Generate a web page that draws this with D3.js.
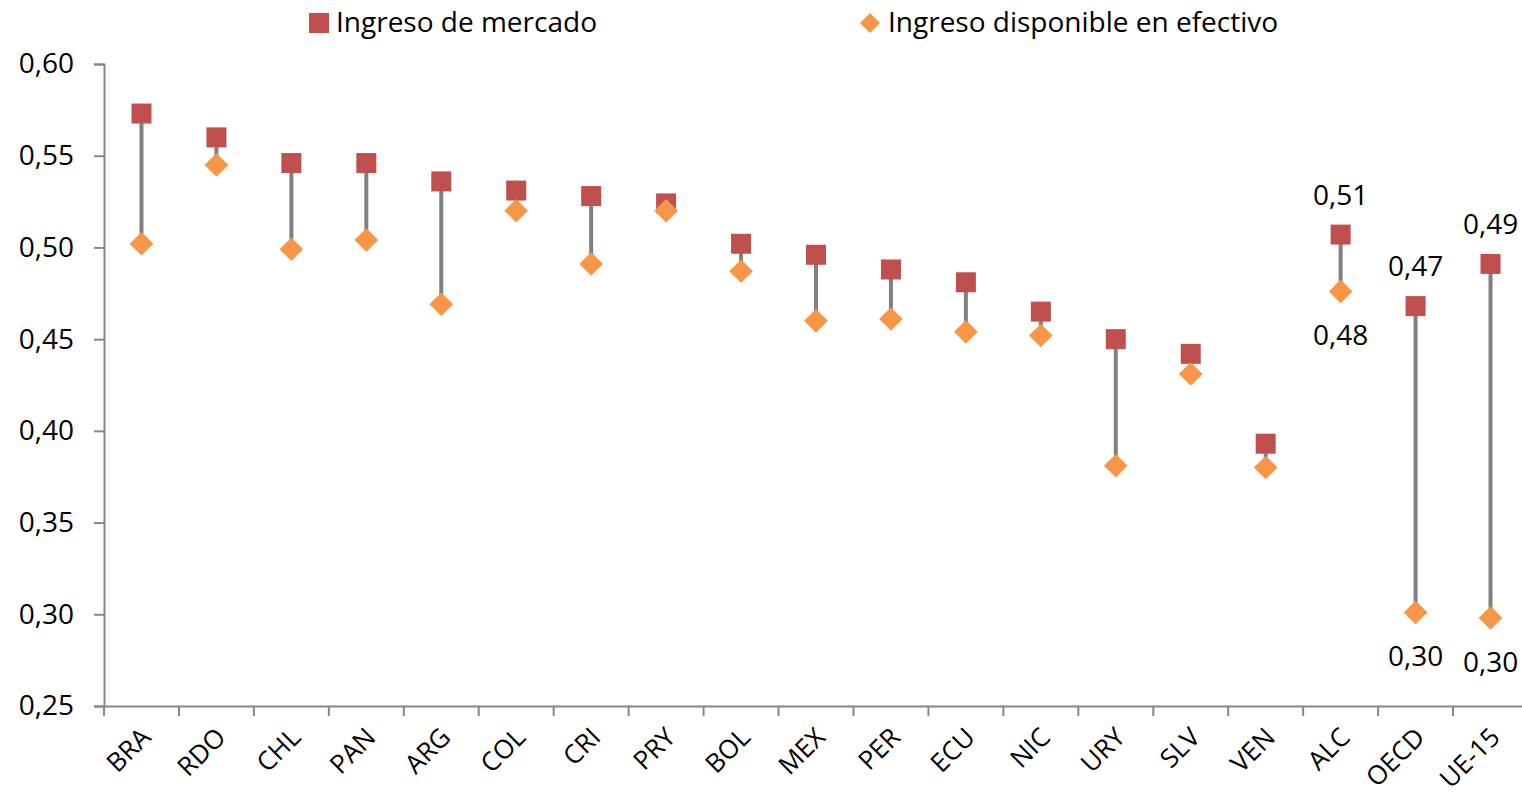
<!DOCTYPE html>
<html>
<head>
<meta charset="utf-8">
<script src="https://cdn.jsdelivr.net/npm/d3@7"></script>
<style>
  body { margin: 0; background: #fff; }
  text { font-family: "Open Sans", sans-serif; fill: #000; }
</style>
</head>
<body>
<div id="chart"></div>
<script>
// Data
var countries = ["BRA", "RDO", "CHL", "PAN", "ARG", "COL", "CRI", "PRY", "BOL", "MEX",
                 "PER", "ECU", "NIC", "URY", "SLV", "VEN", "ALC", "OECD", "UE-15"];
var mercado = [0.573, 0.560, 0.546, 0.546, 0.536, 0.531, 0.528, 0.524, 0.502, 0.496,
               0.488, 0.481, 0.465, 0.450, 0.442, 0.393, 0.507, 0.468, 0.491];
var disponible = [0.502, 0.545, 0.499, 0.504, 0.469, 0.520, 0.491, 0.520, 0.487, 0.460,
                  0.461, 0.454, 0.452, 0.381, 0.431, 0.380, 0.476, 0.301, 0.298];
var labelled = ["ALC", "OECD", "UE-15"];
var yTicks = [0.25, 0.30, 0.35, 0.40, 0.45, 0.50, 0.55, 0.60];
var seriesNames = ["Ingreso de mercado", "Ingreso disponible en efectivo"];

var svgWidth = 1522, svgHeight = 800;
var margin = { top: 64, right: 0, bottom: 94, left: 104 };
var width = 1528 - margin.left;
var height = svgHeight - margin.top - margin.bottom;

var fmt = function(v) { return d3.format(".2f")(v).replace(".", ","); };

var svg = d3.select("#chart")
  .append("svg")
  .attr("width", svgWidth)
  .attr("height", svgHeight);

var chart = svg.append("g")
  .attr("transform", "translate(" + margin.left + "," + margin.top + ")");

// Scales
var xScale = d3.scaleBand().domain(countries).range([0, width]);
var yScale = d3.scaleLinear().domain([0.25, 0.60]).range([height, 0]);

// Axes
var leftAxis = d3.axisLeft(yScale).tickValues(yTicks).tickFormat(fmt).tickSize(10).tickPadding(20);
var yAxis = chart.append("g").call(leftAxis);
yAxis.selectAll("text").style("font-size", "28px");

var bottomAxis = d3.axisBottom(xScale).tickSize(0).tickFormat("");
var xAxis = chart.append("g")
  .attr("transform", "translate(0," + height + ")")
  .call(bottomAxis);

// category boundary ticks
xAxis.selectAll(".bound")
  .data(d3.range(countries.length + 1))
  .enter().append("line")
  .attr("class", "bound")
  .attr("x1", function(i) { return i * xScale.step(); })
  .attr("x2", function(i) { return i * xScale.step(); })
  .attr("y1", 0).attr("y2", 10);

chart.selectAll(".domain, .tick line, .bound")
  .attr("stroke", "#868686")
  .attr("stroke-width", 2);

// rotated category labels
chart.selectAll(".xlab")
  .data(countries)
  .enter().append("text")
  .attr("class", "xlab")
  .attr("transform", function(d) {
    return "translate(" + (xScale(d) + xScale.bandwidth() / 2 - 2) + "," + (height + 20) + ") rotate(-45)";
  })
  .attr("text-anchor", "end")
  .attr("dy", "0.7em")
  .style("font-size", "26px")
  .text(function(d) { return d; });

var cx = function(i) { return xScale(countries[i]) + xScale.bandwidth() / 2; };

// connectors
chart.selectAll(".conn")
  .data(countries)
  .enter().append("line")
  .attr("class", "conn")
  .attr("x1", function(d, i) { return cx(i); })
  .attr("x2", function(d, i) { return cx(i); })
  .attr("y1", function(d, i) { return yScale(mercado[i]); })
  .attr("y2", function(d, i) { return yScale(disponible[i]); })
  .attr("stroke", "#808080")
  .attr("stroke-width", 4);

// squares (market income)
chart.selectAll(".sq")
  .data(mercado)
  .enter().append("rect")
  .attr("class", "sq")
  .attr("x", function(d, i) { return cx(i) - 10; })
  .attr("y", function(d) { return yScale(d) - 10; })
  .attr("width", 20).attr("height", 20)
  .attr("fill", "#C0504D");

// diamonds (disposable income)
var diamond = d3.symbol().type(d3.symbolSquare).size(280);
chart.selectAll(".dia")
  .data(disponible)
  .enter().append("path")
  .attr("class", "dia")
  .attr("d", diamond)
  .attr("transform", function(d, i) {
    return "translate(" + cx(i) + "," + yScale(d) + ") rotate(45)";
  })
  .attr("fill", "#F79646");

// value labels for aggregates
labelled.forEach(function(c) {
  var i = countries.indexOf(c);
  chart.append("text")
    .attr("x", cx(i))
    .attr("y", yScale(mercado[i]) - 30)
    .attr("text-anchor", "middle")
    .style("font-size", "28px")
    .text(fmt(mercado[i]));
  chart.append("text")
    .attr("x", cx(i))
    .attr("y", yScale(disponible[i]) + 54)
    .attr("text-anchor", "middle")
    .style("font-size", "28px")
    .text(fmt(disponible[i]));
});

// Legend
var legend = svg.append("g");
legend.append("rect")
  .attr("x", 309).attr("y", 13).attr("width", 20).attr("height", 20)
  .attr("fill", "#C0504D");
legend.append("text")
  .attr("x", 336).attr("y", 32)
  .style("font-size", "28px")
  .text(seriesNames[0]);
legend.append("path")
  .attr("d", d3.symbol().type(d3.symbolSquare).size(200))
  .attr("transform", "translate(870,23) rotate(45)")
  .attr("fill", "#F79646");
legend.append("text")
  .attr("x", 888).attr("y", 32)
  .style("font-size", "28px")
  .text(seriesNames[1]);
</script>
</body>
</html>
